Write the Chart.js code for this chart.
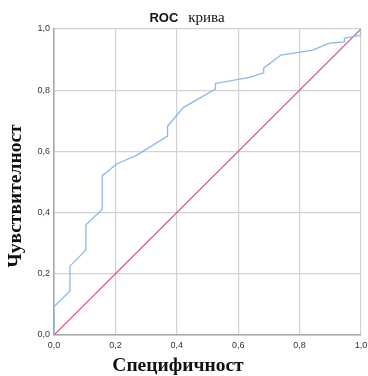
<!DOCTYPE html>
<html>
<head>
<meta charset="utf-8">
<script src="https://cdn.jsdelivr.net/npm/chart.js@4/dist/chart.umd.min.js"></script>
<style>
    html, body { margin: 0; padding: 0; background: #ffffff; }
    #wrap { width: 368px; height: 376px; position: relative; }
</style>
</head>
<body>
<div id="wrap"><canvas id="rocChart" width="368" height="376"></canvas></div>
<script>
// ROC curve data (x = 1 - specificity, y = sensitivity)
const rocX = [0, 0, 0.052, 0.052, 0.104, 0.104, 0.157, 0.157, 0.204, 0.27, 0.37, 0.37, 0.422, 0.476, 0.526, 0.526, 0.637, 0.683, 0.683, 0.739, 0.843, 0.894, 0.946, 0.946, 1, 1];
const rocY = [0, 0.092, 0.144, 0.225, 0.278, 0.36, 0.41, 0.52, 0.559, 0.588, 0.65, 0.683, 0.744, 0.775, 0.804, 0.822, 0.842, 0.857, 0.872, 0.915, 0.931, 0.953, 0.958, 0.97, 0.98, 1];
const refX = [0, 1];
const refY = [0, 1];
const tickValues = [0, 0.2, 0.4, 0.6, 0.8, 1];

const titleBold = 'ROC';
const titleRest = 'крива';
const xTitle = 'Специфичност';
const yTitle = 'Чувствителност';

const toPoints = (xs, ys) => xs.map((x, i) => ({ x: x, y: ys[i] }));
const fmt = v => v.toFixed(1).replace('.', ',');

const serifBold = 'bold 19.5px "Liberation Serif", "Times New Roman", serif';

// title and axis titles drawn on the canvas (mixed fonts, off-centre like the original)
const textPlugin = {
    id: 'chartTexts',
    afterDraw(chart) {
        const ctx = chart.ctx;
        ctx.save();
        ctx.fillStyle = '#111111';
        ctx.textBaseline = 'alphabetic';
        ctx.textAlign = 'left';
        ctx.font = 'bold 13px "Liberation Sans", Arial, sans-serif';
        const w1 = ctx.measureText(titleBold).width;
        ctx.font = '15px "Liberation Serif", "Times New Roman", serif';
        const w2 = ctx.measureText(titleRest).width;
        const gap = 10;
        const x = 187 - (w1 + gap + w2) / 2;
        ctx.font = 'bold 13px "Liberation Sans", Arial, sans-serif';
        ctx.fillText(titleBold, x, 22);
        ctx.font = '15px "Liberation Serif", "Times New Roman", serif';
        ctx.fillText(titleRest, x + w1 + gap, 22);

        ctx.font = serifBold;
        ctx.textAlign = 'center';
        ctx.textBaseline = 'middle';
        ctx.fillText(xTitle, 178, 366);

        ctx.translate(16, 196);
        ctx.rotate(-Math.PI / 2);
        ctx.fillText(yTitle, 0, 0);
        ctx.restore();
    }
};

const tickFont = { family: '"Liberation Sans", Arial, sans-serif', size: 9 };

new Chart(document.getElementById('rocChart'), {
    type: 'scatter',
    data: {
        datasets: [{
            data: toPoints(rocX, rocY),
            showLine: true,
            borderColor: '#88b8f0',
            borderWidth: 1.3,
            pointRadius: 0,
            fill: false,
            tension: 0
        }, {
            data: toPoints(refX, refY),
            showLine: true,
            borderColor: '#e0466e',
            borderWidth: 1.2,
            pointRadius: 0,
            fill: false
        }]
    },
    options: {
        responsive: false,
        animation: false,
        layout: {
            padding: { top: 29, right: 7, left: 0, bottom: 0 }
        },
        plugins: {
            legend: { display: false },
            tooltip: { enabled: false }
        },
        scales: {
            x: {
                type: 'linear',
                min: 0,
                max: 1,
                afterBuildTicks: axis => { axis.ticks = tickValues.map(v => ({ value: v })); },
                afterFit: axis => {
                    axis.height = 41;
                    axis.paddingLeft = 0;
                    axis.paddingRight = 0;
                },
                ticks: {
                    color: '#333333',
                    font: tickFont,
                    padding: 5,
                    maxRotation: 0,
                    callback: v => fmt(v)
                },
                grid: {
                    color: '#d2d2d2',
                    lineWidth: 1.2,
                    drawTicks: false
                },
                border: { color: '#a8a8a8', width: 1.6 }
            },
            y: {
                type: 'linear',
                min: 0,
                max: 1,
                afterBuildTicks: axis => { axis.ticks = tickValues.map(v => ({ value: v })); },
                afterFit: axis => {
                    axis.width = 54;
                    axis.paddingTop = 0;
                    axis.paddingBottom = 0;
                },
                ticks: {
                    color: '#333333',
                    font: tickFont,
                    padding: 4,
                    callback: v => fmt(v)
                },
                grid: {
                    color: '#d2d2d2',
                    lineWidth: 1.2,
                    drawTicks: false
                },
                border: { color: '#a8a8a8', width: 1.6 }
            }
        }
    },
    plugins: [textPlugin]
});
</script>
</body>
</html>
